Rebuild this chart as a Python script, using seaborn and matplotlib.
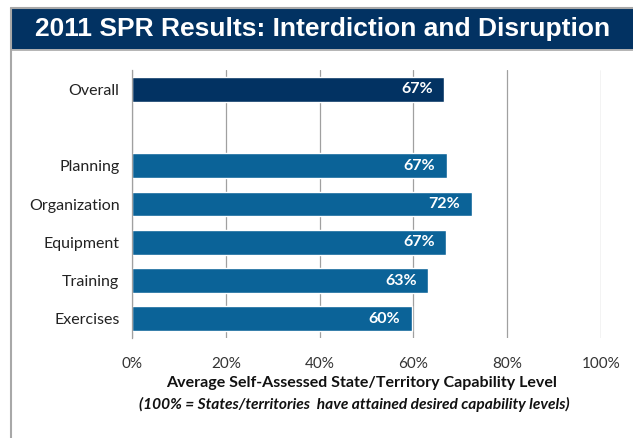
import matplotlib
matplotlib.use("Agg")
import matplotlib.pyplot as plt
from matplotlib.patches import Rectangle
from matplotlib.lines import Line2D
import pandas as pd
import seaborn as sns

# data
categories = ["Overall", "Planning", "Organization", "Equipment", "Training", "Exercises"]
values = [66.6, 67.1, 72.4, 67.0, 63.2, 59.6]
labels = ["67%", "67%", "72%", "67%", "63%", "60%"]
ticks = [0, 20, 40, 60, 80, 100]

title = "2011 SPR Results: Interdiction and Disruption"
xlabel1 = "Average Self-Assessed State/Territory Capability Level"
xlabel2 = "(100% = States/territories  have attained desired capability levels)"

navy = "#023262"
blue = "#0B6398"

df = pd.DataFrame({"cat": categories, "val": values})
order = ["Overall", " "] + categories[1:]
pal = {c: (navy if c == "Overall" else blue) for c in order}

sns.set_style("white")
plt.rcParams["font.family"] = ["Lato", "DejaVu Sans"]

fig = plt.figure(figsize=(6.33, 4.38), dpi=100)
W, H = 633, 438
ax = fig.add_axes([132 / W, 1 - 338 / H, (601 - 132) / W, (338 - 70) / H])

sns.barplot(data=df, x="val", y="cat", hue="cat", order=order, hue_order=order,
            palette=pal, orient="h", width=0.65, legend=False, ax=ax,
            saturation=1, errorbar=None)

ax.set_xlim(0, 100)
ax.set_ylim(6.5, -0.5)
ax.set_xticks(ticks)
ax.set_xticklabels([f"{t}%" for t in ticks], fontsize=11, color="#333333")
ax.tick_params(axis="x", length=0, pad=14)
ax.tick_params(axis="y", length=0, pad=9, labelsize=11.5, labelcolor="#222222")
ax.set_yticks(range(len(order)))
ax.set_yticklabels(order)
ax.set_xlabel("")
ax.set_ylabel("")
ax.grid(axis="x", color="#A0A0A0", linewidth=0.9)
ax.set_axisbelow(True)
for s in ["top", "right", "bottom"]:
    ax.spines[s].set_visible(False)
ax.spines["left"].set_color("#A0A0A0")
ax.spines["left"].set_linewidth(0.9)

# value labels inside bar ends
for i, c in enumerate(order):
    if c in categories:
        k = categories.index(c)
        ax.text(values[k] - 2.4, i, labels[k], ha="right", va="center",
                color="white", fontsize=11.5, fontweight="bold")

# axis title lines
fig.text(362 / W, 1 - 383 / H, xlabel1, ha="center", va="center",
         fontsize=11.5, fontweight="bold", color="#111111")
fig.text(354 / W, 1 - 404 / H, xlabel2, ha="center", va="center",
         fontsize=11.2, fontweight="bold", fontstyle="italic", color="#111111")

# title banner and frame lines
fig.patches.append(Rectangle((12 / W, 1 - 48 / H), 1 - 12 / W, 39 / H,
                             transform=fig.transFigure, color=navy, zorder=0))
fig.text(323 / W, 1 - 29 / H, title, ha="center", va="center", color="white",
         fontsize=19, fontweight="bold", family="Liberation Sans")
gray = "#A8A8A8"
fig.lines.append(Line2D([11 / W, 1], [1 - 8 / H, 1 - 8 / H], transform=fig.transFigure,
                        color=gray, linewidth=1.5))
fig.lines.append(Line2D([11 / W, 11 / W], [1 - 8 / H, 0], transform=fig.transFigure,
                        color=gray, linewidth=1.5))
fig.lines.append(Line2D([11 / W, 1], [1 - 50 / H, 1 - 50 / H], transform=fig.transFigure,
                        color=gray, linewidth=1.2))

fig.savefig("out.png", dpi=100)
